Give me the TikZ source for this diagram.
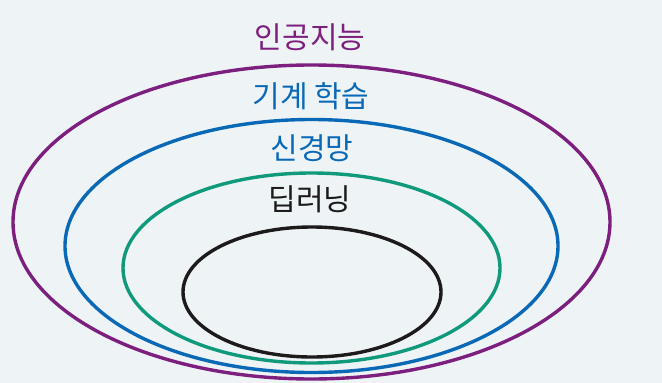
\documentclass[tikz,border=0pt]{standalone}
\usepackage{fontspec}
\newfontfamily\kr{Noto Sans CJK KR}
\usetikzlibrary{shapes.geometric}
\definecolor{bgc}{HTML}{EEF3F6}
\definecolor{aipurple}{HTML}{7D1F7F}
\definecolor{mlblue}{HTML}{0A69B6}
\definecolor{nngreen}{HTML}{109A7C}
\definecolor{dlblack}{HTML}{1C1A1A}
\tikzset{
  ring/.style={ellipse, draw, line width=3.4pt, inner sep=0pt, outer sep=0pt},
  lbl/.style={inner sep=0pt, font=\kr\fontsize{30}{30}\selectfont},
}
\begin{document}
\begin{tikzpicture}[x=1pt,y=-1pt]
\fill[bgc] (0,0) rectangle (662,383);
\useasboundingbox (0,0) rectangle (662,383);
\node[ring, draw=aipurple, minimum width=597pt, minimum height=314pt] (ai) at (311.5,222) {};
\node[ring, draw=mlblue, minimum width=493pt, minimum height=253pt] (ml) at (311.5,246) {};
\node[ring, draw=nngreen, minimum width=377pt, minimum height=190pt] (nn) at (311.5,268) {};
\node[ring, draw=dlblack, minimum width=258pt, minimum height=130pt] (dl) at (312,292) {};
\node[lbl, text=aipurple] (tai) at (310,37) {인공지능};
\node[lbl, text=mlblue] (tml) at (311,96) {기계 학습};
\node[lbl, text=mlblue] (tnn) at (312,148) {신경망};
\node[lbl, text=dlblack] (tdl) at (310,199) {딥러닝};
\end{tikzpicture}
\end{document}
